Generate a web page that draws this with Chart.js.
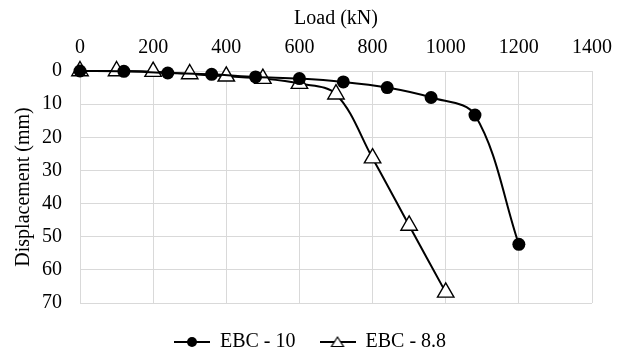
<!DOCTYPE html>
<html>
<head>
<meta charset="utf-8">
<script src="https://cdn.jsdelivr.net/npm/chart.js@4/dist/chart.umd.min.js"></script>
<style>
  html, body { margin: 0; padding: 0; background: #fff; }
  #wrap { width: 625px; height: 356px; }
</style>
</head>
<body>
<div id="wrap"><canvas id="grafico"></canvas></div>
<script>
const loads10 = [0, 120, 240, 360, 480, 600, 720, 840, 960, 1080, 1200];
const disp10 = [0, 0.1, 0.6, 1, 1.8, 2.3, 3.3, 5, 8, 13.3, 52.3];
const loads88 = [0, 100, 200, 300, 400, 500, 600, 700, 800, 900, 1000];
const disp88 = [0, 0, 0.2, 0.9, 1.6, 2.3, 3.8, 7, 26.3, 46.6, 66.8];
const seriesNames = ["EBC - 10", "EBC - 8.8"];
const xTicks = [0, 200, 400, 600, 800, 1000, 1200, 1400];
const yTicks = [0, 10, 20, 30, 40, 50, 60, 70];

const font = "'Liberation Serif', 'Times New Roman', serif";

function toPoints(xs, ys) {
  return xs.map((x, i) => ({ x: x, y: ys[i] }));
}

// small line + marker image used as the legend symbol
function legendIcon(kind) {
  const c = document.createElement("canvas");
  c.width = 36;
  c.height = 16;
  const ctx = c.getContext("2d");
  ctx.strokeStyle = "#000";
  ctx.lineWidth = 2;
  ctx.beginPath();
  ctx.moveTo(0, 8);
  ctx.lineTo(36, 8);
  ctx.stroke();
  ctx.beginPath();
  if (kind === "circle") {
    ctx.fillStyle = "#000";
    ctx.arc(18, 8, 5, 0, Math.PI * 2);
    ctx.fill();
  } else {
    ctx.fillStyle = "#fff";
    ctx.lineWidth = 1.2;
    ctx.moveTo(18, 3);
    ctx.lineTo(24, 12.5);
    ctx.lineTo(12, 12.5);
    ctx.closePath();
    ctx.fill();
    ctx.stroke();
  }
  return c;
}

const icons = [legendIcon("circle"), legendIcon("triangle")];

// fixed legend height, then nudge the legend box to sit where the original has it
const legendPlace = {
  id: "legendPlace",
  beforeInit(chart) {
    const fit = chart.legend.fit;
    chart.legend.fit = function () {
      fit.call(this);
      this.height = 53;
    };
  },
  afterLayout(chart) {
    const lg = chart.legend;
    lg.left += 14;
    lg.right += 14;
    lg.top += 5;
    lg.bottom += 5;
  }
};

new Chart(document.getElementById("grafico"), {
  type: "scatter",
  data: {
    datasets: [
      {
        label: seriesNames[0],
        data: toPoints(loads10, disp10),
        showLine: true,
        clip: false,
        borderColor: "#000",
        backgroundColor: "#000",
        borderWidth: 2,
        tension: 0.35,
        pointStyle: "circle",
        pointRadius: 6.5,
        pointBorderWidth: 0,
      },
      {
        label: seriesNames[1],
        data: toPoints(loads88, disp88),
        showLine: true,
        clip: false,
        borderColor: "#000",
        backgroundColor: "#fff",
        borderWidth: 2,
        tension: 0.35,
        pointStyle: "triangle",
        pointRadius: 9.5,
        pointBorderWidth: 1.4,
      }
    ]
  },
  options: {
    responsive: true,
    maintainAspectRatio: false,
    animation: false,
    layout: { padding: { left: 0, right: 33, top: 0, bottom: 0 } },
    scales: {
      x: {
        type: "linear",
        position: "top",
        min: 0,
        max: 1400,
        afterBuildTicks: (axis) => { axis.ticks = xTicks.map(v => ({ value: v })); },
        afterFit: (axis) => { axis.height = 71; },
        grid: { color: "#d9d9d9", drawTicks: false },
        border: { display: false },
        ticks: { color: "#000", padding: 11, font: { family: font, size: 20 }, callback: (v) => String(v) },
        title: { display: true, text: "Load (kN)", color: "#000", padding: { top: 7, bottom: 0 }, font: { family: font, size: 20 } }
      },
      y: {
        type: "linear",
        reverse: true,
        min: 0,
        max: 70,
        afterBuildTicks: (axis) => { axis.ticks = yTicks.map(v => ({ value: v })); },
        afterFit: (axis) => { axis.width = 80; },
        grid: { color: "#d9d9d9", drawTicks: false },
        border: { display: false },
        ticks: { color: "#000", padding: 18, font: { family: font, size: 20 }, callback: (v) => String(v) },
        title: { display: true, text: "Displacement (mm)", color: "#000", padding: { top: 12, bottom: 0 }, font: { family: font, size: 20 } }
      }
    },
    plugins: {
      legend: {
        position: "bottom",
        labels: {
          usePointStyle: true,
          pointStyleWidth: 36,
          color: "#000",
          padding: 24,
          font: { family: font, size: 20 },
          generateLabels: (chart) => chart.data.datasets.map((ds, i) => ({
            text: ds.label,
            pointStyle: icons[i],
            fillStyle: "#000",
            strokeStyle: "#000",
            lineWidth: 0,
            datasetIndex: i,
            fontColor: "#000"
          }))
        }
      },
      tooltip: { enabled: false }
    }
  },
  plugins: [legendPlace]
});
</script>
</body>
</html>
